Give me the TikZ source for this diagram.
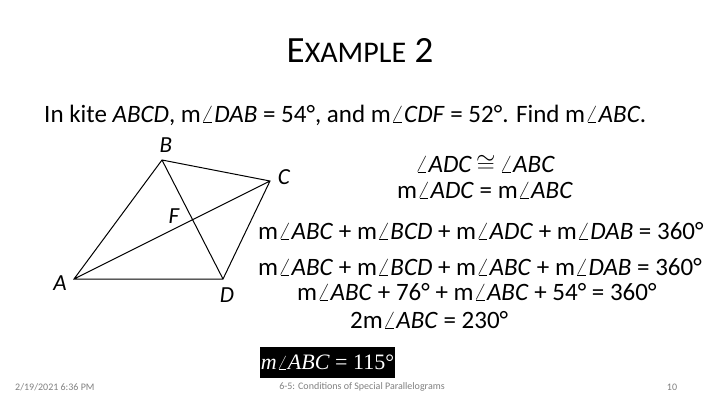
\documentclass[tikz,border=0pt]{standalone}
\usepackage{fontspec}
\setmainfont{Carlito}
\newfontfamily\timesf{Liberation Serif}
\newcommand{\ang}{\ensuremath{\angle}}
\begin{document}
\begin{tikzpicture}[x=1pt,y=-1pt,
  body/.style={anchor=west,inner sep=0pt,font=\fontsize{25}{28}\selectfont},
  lbl/.style={inner sep=0pt,font=\fontsize{23}{26}\selectfont\itshape},
  foot/.style={inner sep=0pt,font=\fontsize{10}{12}\selectfont,text=gray}]
\useasboundingbox (0,0) rectangle (720,405);
\node[inner sep=0pt,font=\fontsize{37}{40}\selectfont] (title) at (360,50) {E{\fontsize{30}{32}\selectfont XAMPLE} 2};
\node[body] (l1) at (44,115) {In kite \textit{ABCD}, m\ang\textit{DAB} = 54°, and m\ang\textit{CDF} = 52°. Find m\ang\textit{ABC}.};
\coordinate (A) at (74,279);
\coordinate (B) at (162,160);
\coordinate (C) at (270,181);
\coordinate (D) at (223,279);
\draw[line width=1pt] (A)--(B)--(C)--(D)--cycle (A)--(C) (B)--(D);
\node[lbl] (la) at (60,283) {A};
\node[lbl] (lb) at (166,145) {B};
\node[lbl] (lc) at (284,177) {C};
\node[lbl] (ld) at (227,295) {D};
\node[lbl] (lf) at (174,216) {F};
\node[inner sep=0pt,font=\fontsize{25}{28}\selectfont] (e1) at (485,164) {\ang\textit{ADC}\,$\cong$\,\ang\textit{ABC}};
\node[inner sep=0pt,font=\fontsize{25}{28}\selectfont] (e2) at (485,190) {m\ang\textit{ADC} = m\ang\textit{ABC}};
\node[body] (e3) at (258,231) {m\ang\textit{ABC} + m\ang\textit{BCD} + m\ang\textit{ADC} + m\ang\textit{DAB} = 360°};
\node[body] (e4) at (258,267) {m\ang\textit{ABC} + m\ang\textit{BCD} + m\ang\textit{ABC} + m\ang\textit{DAB} = 360°};
\node[body] (e5) at (297,292) {m\ang\textit{ABC} + 76° + m\ang\textit{ABC} + 54° = 360°};
\node[body] (e6) at (350,320) {2m\ang\textit{ABC} = 230°};
\node[fill=black,text=white,inner sep=1pt,minimum width=115pt,minimum height=31pt,font=\timesf\fontsize{22}{24}\selectfont] (ans) at (327.5,362.5) {\textit{m}$\angle$\textit{ABC} = 115°};
\node[foot,anchor=west] (f1) at (15,387) {2/19/2021 6:36 PM};
\node[foot] (f2) at (362,387) {6-5: Conditions of Special Parallelograms};
\node[foot] (f3) at (672,387) {10};
\end{tikzpicture}
\end{document}
